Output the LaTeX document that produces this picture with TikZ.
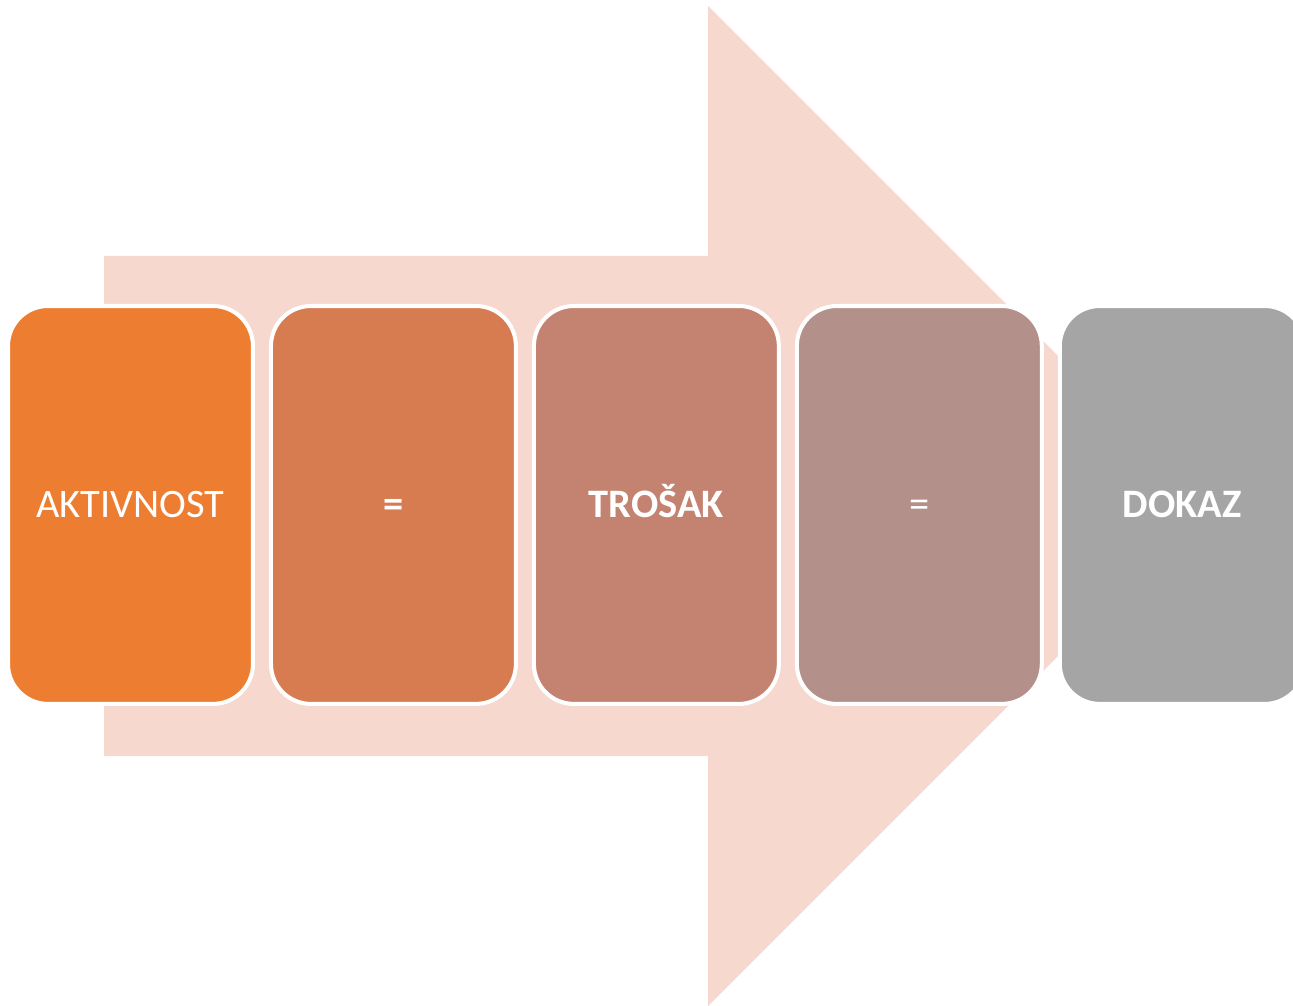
\documentclass[tikz,border=0pt]{standalone}
\usepackage{fontspec}
\setmainfont{Carlito}
\usetikzlibrary{positioning}
\definecolor{mArrowPink}{HTML}{F7D8CE}
\definecolor{mStepA}{HTML}{ED7D31}
\definecolor{mStepB}{HTML}{D77B51}
\definecolor{mStepC}{HTML}{C48270}
\definecolor{mStepD}{HTML}{B39089}
\definecolor{mStepE}{HTML}{A5A5A5}

\begin{document}
\begin{tikzpicture}[
    x=0.02cm, y=-0.02cm,
    card/.style={draw=white, line width=2.3pt, rounded corners=0.8cm, minimum width=4.9cm, minimum height=7.96cm, outer sep=0pt, text=white, font=\fontsize{23}{27}\selectfont, text height=1.4em, text depth=0pt, align=center},
    cardbold/.style={card, font=\fontsize{23}{27}\selectfont\bfseries},
    node distance=0.36cm
]
    \useasboundingbox (0,0) rectangle (1293,1006);

    % velika strelica u pozadini
    \fill[mArrowPink] (104,256) -- (708,256) -- (708,6) -- (1208,506)
        -- (708,1006) -- (708,756) -- (104,756) -- cycle;

    % koraci: lijevo -> desno
    \node[card, fill=mStepA, anchor=north west] (akt) at (8,306) {AKTIVNOST};
    \node[cardbold, fill=mStepB, right=of akt] (eqa) {=};
    \node[cardbold, fill=mStepC, right=of eqa] (tro) {TROŠAK};
    \node[card, fill=mStepD, right=of tro] (eqb) {=};
    \node[cardbold, fill=mStepE, right=of eqb] (dok) {DOKAZ};
\end{tikzpicture}
\end{document}
